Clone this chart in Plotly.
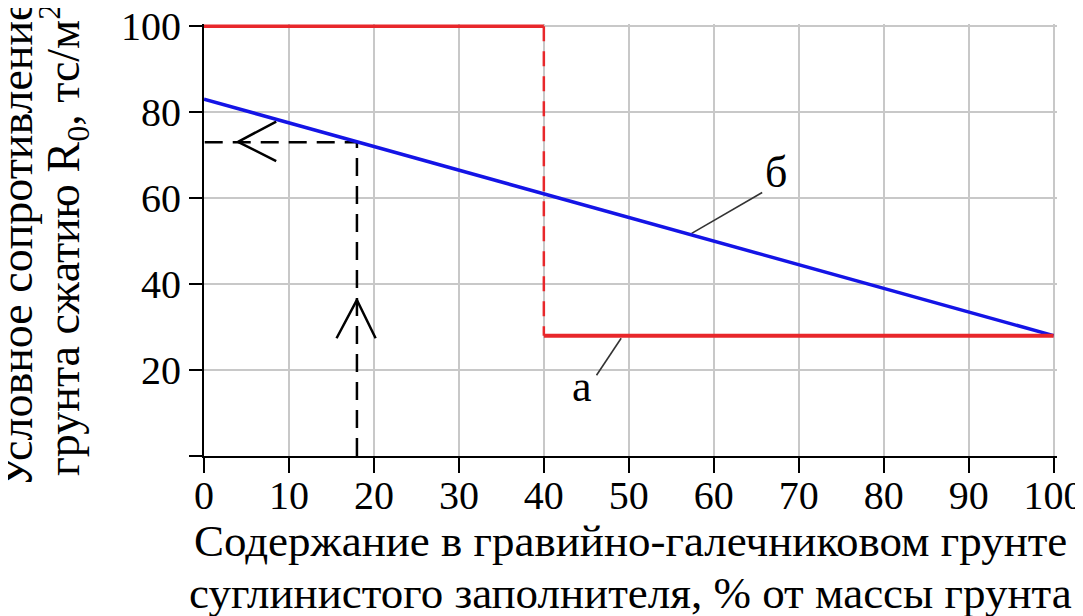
import plotly.graph_objects as go

# ---- data ----
x_ticks = [0, 10, 20, 30, 40, 50, 60, 70, 80, 90, 100]
y_ticks = [0, 20, 40, 60, 80, 100]
y_ticktext = ["", "20", "40", "60", "80", "100"]

# curve "а" (red step)
a_top_x, a_top_y = [0, 40], [100, 100]
a_drop_x, a_drop_y = [40, 40], [100, 28]
a_low_x, a_low_y = [40, 100], [28, 28]

# curve "б" (blue line)
b_x, b_y = [0, 100], [83, 28]

# example read-off (dashed guide)
guide_x, guide_y = [18, 18, 0], [0, 73, 73]
arrow_left_x, arrow_left_y = [8.5, 4, 8.5], [77.8, 73.1, 68.6]
arrow_up_x, arrow_up_y = [15.6, 18, 20.2], [27.4, 36.3, 27.4]

# label leaders
lead_b_x, lead_b_y = [65.7, 57.4], [61.3, 51.8]
lead_a_x, lead_a_y = [46.2, 49.1], [18.8, 27.4]
label_b = ("б", 67.3, 66.0)
label_a = ("а", 44.5, 16.2)

FONT = "Liberation Serif, DejaVu Serif, serif"
RED = "#e8272b"
BLUE = "#1414e6"

fig = go.Figure()


def line(x, y, color, width, dash="solid"):
    fig.add_trace(go.Scatter(x=x, y=y, mode="lines",
                             line=dict(color=color, width=width, dash=dash),
                             hoverinfo="skip", showlegend=False))


line(guide_x, guide_y, "black", 2.5, "18px,10px")
line(arrow_left_x, arrow_left_y, "black", 2.5)
line(arrow_up_x, arrow_up_y, "black", 2.5)
line(lead_b_x, lead_b_y, "#333333", 1.6)
line(lead_a_x, lead_a_y, "#333333", 1.6)
line(b_x, b_y, BLUE, 3.5)
line(a_top_x, a_top_y, RED, 3.5)
line(a_drop_x, a_drop_y, RED, 2.5, "15px,10px")
line(a_low_x, a_low_y, RED, 4)

annotations = []
for txt, x, y in (label_b, label_a):
    annotations.append(dict(text=txt, x=x, y=y, xref="x", yref="y",
                            showarrow=False, font=dict(family=FONT, size=44, color="black")))

# x axis title (two lines)
annotations.append(dict(text="Содержание в гравийно-галечниковом грунте",
                        x=0.5, y=0, xref="paper", yref="paper", yanchor="middle",
                        yshift=-85, showarrow=False,
                        font=dict(family=FONT, size=45, color="black")))
annotations.append(dict(text="суглинистого заполнителя, % от массы грунта",
                        x=0.5, y=0, xref="paper", yref="paper", yanchor="middle",
                        yshift=-137, showarrow=False,
                        font=dict(family=FONT, size=45, color="black")))
# y axis title (two lines, rotated)
annotations.append(dict(text="Условное сопротивление",
                        x=0, y=0.5, xref="paper", yref="paper", xanchor="center",
                        xshift=-188, yshift=-4, textangle=-90, showarrow=False,
                        font=dict(family=FONT, size=46, color="black")))
annotations.append(dict(text="грунта сжатию R<sub>0</sub>, тс/м<sup>2</sup>",
                        x=0, y=0.5, xref="paper", yref="paper", xanchor="center",
                        xshift=-141, textangle=-90, showarrow=False,
                        font=dict(family=FONT, size=46, color="black")))

# page body has an 8px default margin, so the figure is offset by 8px
fig.update_layout(
    width=1075, height=608,
    margin=dict(l=196, r=26, t=16, b=160, autoexpand=False),
    paper_bgcolor="white", plot_bgcolor="white",
    showlegend=False,
    annotations=annotations,
    xaxis=dict(range=[0, 100.4], tickvals=x_ticks, ticks="outside", ticklen=15,
               tickwidth=2, tickcolor="black", showline=True, linecolor="black",
               linewidth=2, showgrid=True, gridcolor="#c8c8c8", gridwidth=1.5,
               zeroline=False, automargin=False, ticklabeloverflow="allow",
               ticklabelstandoff=-12,
               tickfont=dict(family=FONT, size=40, color="black")),
    yaxis=dict(range=[0, 100.5], tickvals=y_ticks, ticktext=y_ticktext,
               ticks="outside", ticklen=13, tickwidth=2, tickcolor="black",
               showline=True, linecolor="black", linewidth=2, showgrid=True,
               gridcolor="#c8c8c8", gridwidth=1.5, zeroline=False, automargin=False,
               ticklabeloverflow="allow",
               tickfont=dict(family=FONT, size=40, color="black")),
)

fig.write_html("out.html")
